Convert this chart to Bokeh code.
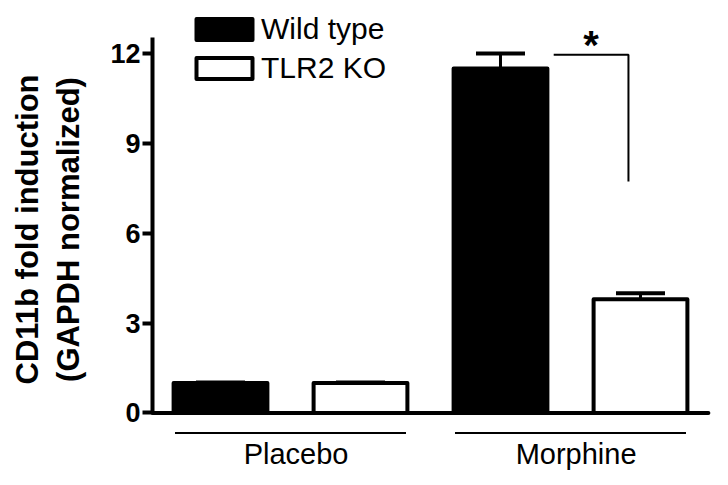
import math
from bokeh.plotting import figure
from bokeh.models import LinearAxis, FixedTicker, Range1d, Legend, LegendItem
from bokeh.embed import file_html
from bokeh.resources import INLINE
from bokeh.core.properties import value

# ---- data ----
groups = ["Placebo", "Morphine"]
genotypes = ["Wild type", "TLR2 KO"]
wt_mean = [1.0, 11.5]
wt_sem = [0.02, 0.5]
ko_mean = [1.0, 3.8]
ko_sem = [0.02, 0.2]
y_ticks = [0, 3, 6, 9, 12]
y_label_lines = ["CD11b fold induction", "(GAPDH normalized)"]
sig_mark = "*"

FONT = "Liberation Sans"

# frame covers the whole canvas; 140 px per x unit, 29.96 px per y unit
p = figure(width=728, height=485, output_backend="svg", toolbar_location=None,
           x_range=Range1d(-1.0714, 4.1286), y_range=Range1d(-2.42, 13.768),
           x_axis_type=None, y_axis_type=None,
           min_border_left=0, min_border_right=0,
           min_border_top=0, min_border_bottom=0)
p.outline_line_color = None
p.background_fill_color = "white"
p.border_fill_color = "white"
for g in p.grid:
    g.visible = False

yax = LinearAxis(ticker=FixedTicker(ticks=y_ticks), bounds=(0, 12.53),
                 fixed_location=0.0143)
yax.axis_line_width = 4
yax.axis_line_color = "black"
yax.major_tick_line_width = 4
yax.major_tick_out = 10
yax.major_tick_in = 0
yax.minor_tick_line_color = None
yax.major_label_text_font = FONT
yax.major_label_text_font_style = "bold"
yax.major_label_text_font_size = "27px"
yax.major_label_text_color = "black"
yax.major_label_standoff = 2
p.add_layout(yax, "left")

n_g = len(genotypes)
x_wt = [i * n_g + 0.5 for i in range(len(groups))]
x_ko = [i * n_g + 1.5 for i in range(len(groups))]
BW = 0.67

# error bars (upper only)
xs = x_wt + x_ko
means = wt_mean + ko_mean
sems = wt_sem + ko_sem
tops = [m + s for m, s in zip(means, sems)]
p.segment(x0=xs, y0=means, x1=xs, y1=tops, line_color="black", line_width=3)
p.segment(x0=[x - 0.175 for x in xs], y0=tops, x1=[x + 0.175 for x in xs], y1=tops,
          line_color="black", line_width=4)

wt = p.vbar(x=x_wt, top=wt_mean, bottom=0, width=BW, fill_color="black",
            line_color="black", line_width=4, line_join="round")
ko = p.vbar(x=x_ko, top=ko_mean, bottom=0, width=BW, fill_color="white",
            line_color="black", line_width=4, line_join="round")

# x axis baseline
p.segment(x0=[0.0143], y0=[0], x1=[3.985], y1=[0], line_color="black",
          line_width=4, line_cap="round")

# group underlines and labels
centers = [i * n_g + 1.0 for i in range(len(groups))]
p.segment(x0=[c - 0.825 for c in centers], y0=[-0.668] * len(groups),
          x1=[c + 0.825 for c in centers], y1=[-0.668] * len(groups),
          line_color="black", line_width=2)
p.text(x=[c + 0.04 for c in centers], y=[-1.37] * len(groups), text=groups,
       text_align="center", text_baseline="alphabetic", text_font=value(FONT),
       text_font_size="29px", text_color="black")

# significance bracket
bx0 = x_wt[1] + 0.38
bx1 = x_ko[1] - 0.086
by = tops[1] - 0.04
p.line(x=[bx0, bx1, bx1], y=[by, by, 7.73], line_color="black", line_width=2)
p.text(x=[(bx0 + bx1) / 2], y=[12.27], text=[sig_mark], text_align="center",
       text_baseline="alphabetic", text_font=value(FONT), text_font_style="bold",
       text_font_size="40px", text_color="black")

# y axis label (two lines, rotated)
p.text(x=[-0.879, -0.586], y=[6.125, 6.125], text=y_label_lines, angle=math.pi / 2,
       text_align="center", text_baseline="alphabetic", text_font=value(FONT),
       text_font_style="bold", text_font_size="31px", text_color="black")

legend = Legend(items=[LegendItem(label=genotypes[0], renderers=[wt]),
                       LegendItem(label=genotypes[1], renderers=[ko])],
                location=(189, 400.5), orientation="vertical",
                glyph_width=70, glyph_height=26, label_standoff=2, spacing=5,
                padding=0, margin=0, border_line_color=None,
                background_fill_alpha=0, label_text_font=FONT,
                label_text_font_size="30px", label_text_color="black")
p.add_layout(legend)

open("out.html", "w").write(file_html(p, INLINE))
